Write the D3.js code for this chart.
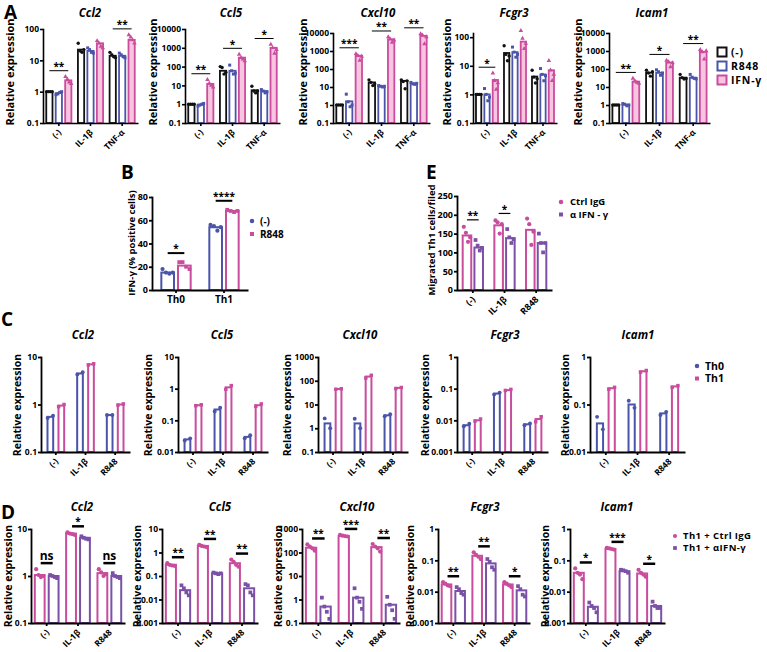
<!DOCTYPE html>
<html><head><meta charset="utf-8">
<script src="https://cdn.jsdelivr.net/npm/d3@7"></script>
<style>
body{margin:0;background:#fff}
svg text{font-family:"Open Sans","DejaVu Sans",sans-serif;font-weight:bold;fill:#000}
</style>
</head><body>
<svg id="c" width="767" height="652"></svg>
<script>
// ---------------- DATA ----------------
const genes = ["Ccl2", "Ccl5", "Cxcl10", "Fcgr3", "Icam1"];

// Panel A: stimulation categories x treatment series
const catsA = ["(-)", "IL-1β", "TNF-α"];
const seriesA = ["(-)", "R848", "IFN-γ"];
const barsA = [
  [[1, 0.9, 2.3], [22, 20, 35], [14, 14, 45]],
  [[1, 0.95, 12], [60, 60, 300], [5.5, 5, 1000]],
  [[1, 1.6, 550], [18, 11, 4500], [22, 16, 7000]],
  [[1, 1, 3.2], [28, 30, 70], [4.2, 5, 7]],
  [[1, 1.05, 20], [62, 62, 230], [33, 33, 900]]
];
const pointsA = [
  [[[1,1,1,1],[0.8,0.85,0.95,1]],[[35,20,18,22],[25,22,18,17]],[[18,15,13,12],[17,15,13,12]]],
  [[[1,1,1,1],[0.8,0.9,1,1.1]],[[100,90,40,50],[120,60,40,45]],[[9,5,4,5],[6,5,4,4.5]]],
  [[[1,1,1,1],[4,1.5,0.8,1]],[[25,18,12,15],[12,11,10,11]],[[25,20,8,22],[18,15,14,16]]],
  [[[1,1,1,1],[1.6,1,0.6,0.8]],[[50,25,15,22],[45,30,20,25]],[[7,4,2.5,3.5],[8,5,3,4.5]]],
  [[[1,1,1,1],[1.2,1.1,0.9,1]],[[85,60,40,70],[90,70,45,60]],[[50,33,28,30],[50,35,30,28]]]
];
const pointsAIfn = [
  [[3,2.5,2,1.8],[42,35,28,25],[65,55,45,35]],
  [[20,13,10,8],[450,300,250,200],[1500,1000,500,800]],
  [[700,550,300,500],[6000,4500,3000,4000],[9000,7500,2500,6000]],
  [[5.5,3,1.5,2.5],[170,90,40,60],[15,7,3,5]],
  [[30,22,18,16],[300,250,130,220],[1200,900,350,1000]]
];
const sigA = [
  [[0, "**"], [2, "**"]],
  [[0, "**"], [1, "*"], [2, "*"]],
  [[0, "***"], [1, "**"], [2, "**"]],
  [[0, "*"]],
  [[0, "**"], [1, "*"], [2, "**"]]
];
const domA = [[0.1, 100], [0.1, 10000], [0.1, 10000], [0.1, 140], [0.1, 10000]];
const ticksA = [[0.1, 1, 10, 100], [0.1, 1, 10, 100, 1000, 10000], [0.1, 1, 10, 100, 1000, 10000], [0.1, 1, 10, 100], [0.1, 1, 10, 100, 1000, 10000]];

// Panel B
const catsB = ["Th0", "Th1"];
const seriesB = ["(-)", "R848"];
const barsB = [[15, 21], [54, 68]];
const pointsB = [[[18, 15, 14, 15], [24, 24, 20, 18]], [[56, 55, 51, 54], [69, 68, 67, 68]]];
const sigB = [[0, "*"], [1, "****"]];
const ticksB = [0, 20, 40, 60, 80];

// Panel E
const catsE = ["(-)", "IL-1β", "R848"];
const seriesE = ["Ctrl IgG", "α IFN - γ"];
const barsE = [[145, 113], [172, 138], [160, 125]];
const pointsE = [
  [[168, 152, 128, 140], [133, 118, 105, 112]],
  [[185, 180, 150, 175], [162, 140, 125, 135]],
  [[190, 175, 120, 155], [150, 125, 100, 125]]
];
const sigE = [[0, "**"], [1, "*"]];
const ticksE = [0, 50, 100, 150, 200, 250];

// Panel C
const catsC = ["(-)", "IL-1β", "R848"];
const seriesC = ["Th0", "Th1"];
const barsC = [
  [[0.55, 0.95], [4.5, 7], [0.6, 1.0]],
  [[0.025, 0.3], [0.22, 1.1], [0.03, 0.3]],
  [[1.6, 45], [1.6, 150], [3.5, 50]],
  [[0.007, 0.01], [0.07, 0.09], [0.0075, 0.011]],
  [[0.04, 0.22], [0.1, 0.5], [0.065, 0.24]]
];
const pointsC = [
  [[[0.52, 0.58], [0.9, 1.0]], [[4.3, 4.8], [6.8, 7.2]], [[0.6, 0.6], [0.97, 1.03]]],
  [[[0.023, 0.027], [0.29, 0.31]], [[0.19, 0.25], [0.95, 1.25]], [[0.027, 0.034], [0.28, 0.33]]],
  [[[2.6, 1.0], [44, 46]], [[2.5, 1.0], [130, 170]], [[3.2, 3.9], [47, 52]]],
  [[[0.0065, 0.0078], [0.0095, 0.011]], [[0.065, 0.075], [0.088, 0.095]], [[0.007, 0.008], [0.009, 0.013]]],
  [[[0.055, 0.03], [0.21, 0.23]], [[0.12, 0.085], [0.48, 0.52]], [[0.06, 0.07], [0.23, 0.25]]]
];
const domC = [[0.1, 10], [0.01, 10], [0.1, 1000], [0.001, 1], [0.01, 1]];

// Panel D
const catsD = ["(-)", "IL-1β", "R848"];
const seriesD = ["Th1 + Ctrl IgG", "Th1  +  αIFN-γ"];
const barsD = [
  [[1.05, 1.0], [8, 6.5], [1.15, 1.0]],
  [[0.3, 0.025], [1.9, 0.13], [0.35, 0.03]],
  [[160, 0.5], [500, 1.2], [170, 0.6]],
  [[0.017, 0.0105], [0.14, 0.08], [0.017, 0.011]],
  [[0.04, 0.0033], [0.23, 0.045], [0.038, 0.0035]]
];
const pointsD = [
  [[[1.4, 1.05, 0.95, 1.0], [1.05, 1.0, 0.95, 0.9]], [[8.5, 8, 7.8, 7.5], [7, 6.5, 6.2, 6]], [[1.4, 1.2, 1.0, 1.1], [1.15, 1.0, 0.95, 0.9]]],
  [[[0.35, 0.3, 0.28, 0.27], [0.04, 0.03, 0.02, 0.015]], [[2.1, 1.9, 1.8, 1.7], [0.14, 0.13, 0.12, 0.13]], [[0.5, 0.4, 0.3, 0.25], [0.045, 0.04, 0.02, 0.015]]],
  [[[220, 180, 150, 120], [1.2, 0.5, 0.3, 0.15]], [[560, 520, 500, 480], [3, 1.2, 0.8, 0.4]], [[230, 180, 150, 110], [1.3, 0.6, 0.35, 0.15]]],
  [[[0.02, 0.018, 0.016, 0.015], [0.014, 0.012, 0.009, 0.008]], [[0.18, 0.15, 0.13, 0.11], [0.11, 0.09, 0.06, 0.05]], [[0.02, 0.018, 0.016, 0.014], [0.015, 0.012, 0.008, 0.007]]],
  [[[0.055, 0.04, 0.035, 0.025], [0.0045, 0.0035, 0.003, 0.0022]], [[0.25, 0.24, 0.23, 0.22], [0.05, 0.048, 0.045, 0.04]], [[0.05, 0.04, 0.035, 0.03], [0.0048, 0.0035, 0.003, 0.003]]]
];
const sigD = [
  [[0, "ns"], [1, "*"], [2, "ns"]],
  [[0, "**"], [1, "**"], [2, "**"]],
  [[0, "**"], [1, "***"], [2, "**"]],
  [[0, "**"], [1, "**"], [2, "*"]],
  [[0, "*"], [1, "***"], [2, "*"]]
];
const domD = [[0.1, 10], [0.001, 10], [0.1, 1000], [0.001, 1], [0.001, 1]];

// ---------------- STYLE / LAYOUT ----------------
const BLACK = "#111", BLUE = "#4a55aa", PINK = "#c94c9d", PINKFILL = "#f8c4df", PURPLE = "#7b51a7";
const svg = d3.select("#c");
const logTicks = dom => d3.range(Math.round(Math.log10(dom[0])), Math.floor(Math.log10(dom[1]) + 1e-9) + 1).map(e => +Math.pow(10, e).toPrecision(1));
const fmtLog = d => d >= 1 ? d3.format("d")(d) : String(d);

function drawPanel(p) {
  const g = svg.append("g");
  const nS = p.colors.length;
  const y = (p.log ? d3.scaleLog() : d3.scaleLinear()).domain(p.dom).range([p.bot, p.top]);
  const x = d3.scaleBand().domain(p.cats).range([p.x0, p.x1]);
  const xs = d3.scaleBand().domain(d3.range(nS)).range([0, x.bandwidth()]).paddingInner(p.pi).paddingOuter(p.po);
  const bw = xs.bandwidth();
  const cx = (ci, si) => x(p.cats[ci]) + xs(si) + bw / 2;

  const barRecs = p.bars.flatMap((grp, ci) => grp.map((v, si) => ({ ci, si, v })));
  g.selectAll("rect.bar").data(barRecs).join("rect").attr("class", "bar")
    .attr("x", d => cx(d.ci, d.si) - bw / 2 + p.sw / 2)
    .attr("width", bw - p.sw)
    .attr("y", d => y(d.v))
    .attr("height", d => p.bot - y(d.v))
    .attr("fill", d => p.fills[d.si]).attr("stroke", d => p.colors[d.si]).attr("stroke-width", p.sw);

  const ptRecs = p.points.flatMap((grp, ci) => grp.flatMap((arr, si) => arr.map((v, k) => ({ ci, si, k, n: arr.length, v }))));
  g.selectAll("path.pt").data(ptRecs).join("path").attr("class", "pt")
    .attr("transform", d => `translate(${cx(d.ci, d.si) + (d.n > 1 ? (d.k / (d.n - 1) - 0.5) : 0) * bw * p.spread},${y(d.v)})`)
    .attr("d", d => d3.symbol().type(p.shapes[d.si]).size(p.msize)())
    .attr("fill", d => p.colors[d.si]);

  // axes
  const ya = g.append("g").attr("transform", `translate(${p.x0},0)`)
    .call(d3.axisLeft(y).tickValues(p.ticks).tickFormat(p.log ? fmtLog : d3.format("d")).tickSize(3).tickSizeOuter(0).tickPadding(1));
  const xa = g.append("g").attr("transform", `translate(0,${p.bot})`)
    .call(d3.axisBottom(x).tickSize(3).tickSizeOuter(0));
  [ya, xa].forEach(a => {
    a.selectAll("path,line").attr("stroke", "#000").attr("stroke-width", p.aw);
    a.selectAll("text").attr("font-size", p.tfs);
  });
  ya.select("path.domain").attr("stroke-linecap", "square");
  if (p.rot) {
    xa.selectAll("text").attr("text-anchor", "end").attr("y", 0).attr("dy", 0)
      .attr("transform", "translate(3,10) rotate(-45)");
  } else {
    xa.selectAll("text").attr("y", 6).attr("font-size", p.tfs + 1);
  }

  // significance
  const sigRecs = p.sig.map(([ci, lab]) => {
    const vals = p.allPts(ci).concat(p.bars[ci]);
    const ly = y(d3.max(vals)) - p.sigOff;
    return { x1: cx(ci, 0) + p.sigIn, x2: cx(ci, nS - 1) - p.sigIn, ly, lab };
  });
  g.selectAll("line.sig").data(sigRecs).join("line").attr("class", "sig")
    .attr("x1", d => d.x1).attr("x2", d => d.x2).attr("y1", d => d.ly).attr("y2", d => d.ly)
    .attr("stroke", "#000").attr("stroke-width", p.sigW);
  g.selectAll("text.sig").data(sigRecs).join("text").attr("class", "sig")
    .attr("x", d => (d.x1 + d.x2) / 2).attr("y", d => d.ly - p.sigW / 2 - (d.lab === "ns" ? 2 : 0))
    .attr("text-anchor", "middle").attr("font-size", d => d.lab === "ns" ? p.sigFs + 2 : p.sigFs).text(d => d.lab);

  // title & y label
  if (p.title) g.append("text").attr("x", p.titleX).attr("y", p.titleY).attr("text-anchor", "middle")
    .attr("font-style", "italic").attr("font-size", 11.5).text(p.title);
  g.append("text").attr("transform", `translate(${p.ylabX},${p.ylabY}) rotate(-90)`).attr("text-anchor", "middle")
    .attr("dy", "0.35em").attr("font-size", p.ylfs).text(p.ylabel);
}

function legend(x, y, dy, items, fs, tx, ls) {
  const g = svg.append("g").attr("transform", `translate(${x},${y})`);
  const it = g.selectAll("g").data(items).join("g").attr("transform", (d, i) => `translate(0,${i * dy})`);
  it.each(function (d) {
    const s = d3.select(this);
    if (d.box) {
      s.append("rect").attr("x", -4.5).attr("y", -4.5).attr("width", 9).attr("height", 9)
        .attr("fill", d.fill).attr("stroke", d.color).attr("stroke-width", 2);
    } else {
      s.append("path").attr("d", d3.symbol().type(d.shape).size(d.size)()).attr("fill", d.color);
    }
  });
  it.append("text").attr("x", tx).attr("dy", "0.35em").attr("font-size", fs)
    .attr("letter-spacing", ls || 0).text(d => d.label);
}

// ---------------- PANEL A ----------------
const layA = [
  { x0: 43, x1: 138, top: 29, titleX: 90, ylabX: 10 },
  { x0: 185, x1: 280, top: 29, titleX: 231, ylabX: 153 },
  { x0: 333, x1: 430, top: 33, titleX: 378, ylabX: 303 },
  { x0: 473, x1: 557, top: 33, titleX: 514, ylabX: 447 },
  { x0: 609, x1: 710, top: 33, titleX: 652, ylabX: 578 }
];
genes.forEach((gn, i) => {
  const bars = barsA[i];
  const points = bars.map((_, ci) => [pointsA[i][ci][0], pointsA[i][ci][1], pointsAIfn[i][ci]]);
  drawPanel({
    ...layA[i], bot: 123, log: true, dom: domA[i], ticks: ticksA[i], cats: catsA,
    bars, points, allPts: ci => points[ci].flat(),
    colors: [BLACK, BLUE, PINK], fills: ["#fff", "#fff", PINKFILL],
    shapes: [d3.symbolCircle, d3.symbolSquare, d3.symbolTriangle], msize: 9, spread: 0.7,
    pi: 0.15, po: 0.25, sw: 1.8, aw: 1.6, tfs: 8.5, rot: true,
    sig: sigA[i], sigOff: 6, sigW: 1, sigIn: 0, sigFs: 10,
    title: gn, titleY: 17, ylabY: 72, ylabel: "Relative expression", ylfs: 11
  });
});
legend(722, 52, 14, seriesA.map((s, i) => ({ label: s, box: true, color: [BLACK, BLUE, PINK][i], fill: ["#fff", "#fff", PINKFILL][i] })), 10.5, 9, 0.8);

// ---------------- PANEL B ----------------
drawPanel({
  x0: 152, x1: 248, top: 197, bot: 290, log: false, dom: [0, 80], ticks: ticksB, cats: catsB,
  bars: barsB, points: pointsB, allPts: ci => pointsB[ci].flat(),
  colors: [BLUE, PINK], fills: ["#fff", "#fff"], shapes: [d3.symbolCircle, d3.symbolSquare], msize: 14, spread: 0.7,
  pi: 0.12, po: 0.5, sw: 2, aw: 1.8, tfs: 9, rot: false,
  sig: sigB, sigOff: 9, sigW: 2, sigIn: 0, sigFs: 10,
  title: null, ylabX: 132, ylabY: 243, ylabel: "IFN-γ (% positive cells)", ylfs: 9.5
});
legend(252, 221, 13, seriesB.map((s, i) => ({ label: s, color: [BLUE, PINK][i], shape: [d3.symbolCircle, d3.symbolSquare][i], size: 16 })), 10, 8);

// ---------------- PANEL E ----------------
drawPanel({
  x0: 457, x1: 552, top: 196, bot: 290, log: false, dom: [0, 250], ticks: ticksE, cats: catsE,
  bars: barsE, points: pointsE, allPts: ci => pointsE[ci].flat(),
  colors: [PINK, PURPLE], fills: ["#fff", "#fff"], shapes: [d3.symbolCircle, d3.symbolSquare], msize: 14, spread: 0.6,
  pi: 0.1, po: 0.4, sw: 2, aw: 1.8, tfs: 9, rot: true,
  sig: sigE, sigOff: 7, sigW: 1.2, sigIn: 0, sigFs: 10,
  title: null, ylabX: 432, ylabY: 240, ylabel: "Migrated Th1 cells/filed", ylfs: 9.5
});
legend(561, 202, 12.5, seriesE.map((s, i) => ({ label: s, color: [PINK, PURPLE][i], shape: [d3.symbolCircle, d3.symbolSquare][i], size: 16 })), 9.5, 9);

// ---------------- PANEL C ----------------
const layC = [
  { x0: 41, x1: 130, titleX: 83, ylabX: 17 },
  { x0: 178, x1: 268, titleX: 222, ylabX: 148 },
  { x0: 318, x1: 408, titleX: 360, ylabX: 287 },
  { x0: 457, x1: 548, titleX: 505, ylabX: 425 },
  { x0: 590, x1: 685, titleX: 638, ylabX: 565 }
];
genes.forEach((gn, i) => {
  drawPanel({
    ...layC[i], top: 357, bot: 452, log: true, dom: domC[i], ticks: logTicks(domC[i]), cats: catsC,
    bars: barsC[i], points: pointsC[i], allPts: ci => pointsC[i][ci].flat(),
    colors: [BLUE, PINK], fills: ["#fff", "#fff"], shapes: [d3.symbolCircle, d3.symbolSquare], msize: 12, spread: 0.7,
    pi: 0.3, po: 0.5, sw: 2, aw: 1.8, tfs: 8.5, rot: true,
    sig: [], sigOff: 6, sigW: 1, sigIn: 0, sigFs: 10,
    title: gn, titleY: 339, ylabY: 405, ylabel: "Relative expression", ylfs: 10.5
  });
});
legend(697, 366, 12.5, seriesC.map((s, i) => ({ label: s, color: [BLUE, PINK][i], shape: [d3.symbolCircle, d3.symbolSquare][i], size: 16 })), 10.5, 8);

// ---------------- PANEL D ----------------
const layD = [
  { x0: 31, x1: 125, titleX: 82, ylabX: 8 },
  { x0: 162, x1: 258, titleX: 220, ylabX: 137 },
  { x0: 302, x1: 400, titleX: 357, ylabX: 278 },
  { x0: 438, x1: 530, titleX: 485, ylabX: 410 },
  { x0: 570, x1: 665, titleX: 617, ylabX: 545 }
];
genes.forEach((gn, i) => {
  drawPanel({
    ...layD[i], top: 529, bot: 623, log: true, dom: domD[i], ticks: logTicks(domD[i]), cats: catsD,
    bars: barsD[i], points: pointsD[i], allPts: ci => pointsD[i][ci].flat(),
    colors: [PINK, PURPLE], fills: ["#fff", "#fff"], shapes: [d3.symbolCircle, d3.symbolSquare], msize: 14, spread: 0.6,
    pi: 0.15, po: 0.2, sw: 2, aw: 1.8, tfs: 8.5, rot: true,
    sig: sigD[i], sigOff: 6, sigW: 2.5, sigIn: 1, sigFs: 10,
    title: gn, titleY: 511, ylabY: 576, ylabel: "Relative expression", ylfs: 10.5
  });
});
legend(675, 536, 12, seriesD.map((s, i) => ({ label: s, color: [PINK, PURPLE][i], shape: [d3.symbolCircle, d3.symbolSquare][i], size: 14 })), 9.5, 8, 0.4);

// ---------------- PANEL LETTERS ----------------
const letters = [["A", 4, 19], ["B", 121, 179], ["E", 426, 179], ["C", 1, 326], ["D", 1, 519]];
svg.selectAll("text.letter").data(letters).join("text").attr("class", "letter")
  .attr("x", d => d[1]).attr("y", d => d[2]).attr("font-size", 19).text(d => d[0]);
</script>
</body></html>
